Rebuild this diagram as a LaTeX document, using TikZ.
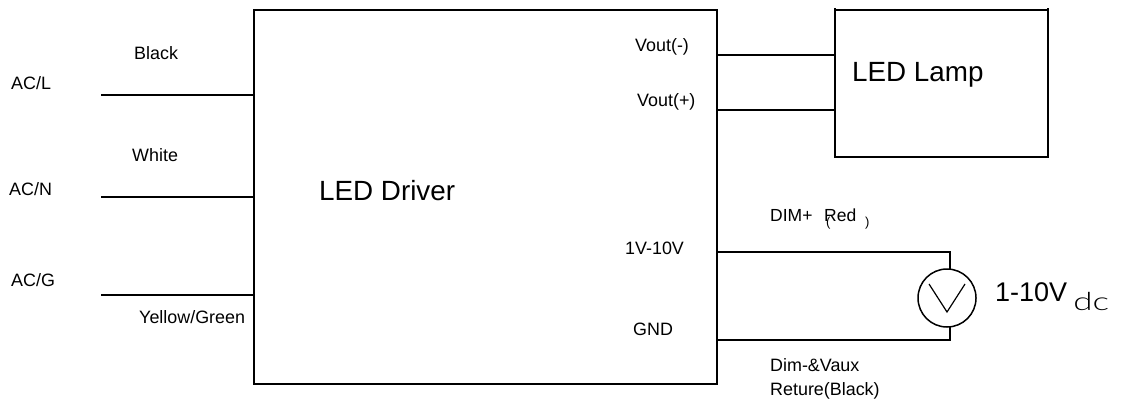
\documentclass[tikz,border=0pt]{standalone}
\usepackage{fontspec}
\setmainfont{Liberation Sans}
\newfontfamily\thinfont{Lato}[UprightFont=* Light]
\tikzset{
  x=1pt,y=-1pt,
  wire/.style={line width=1.7pt,black},
  blockbox/.style={draw=black,line width=1.7pt,outer sep=0pt,inner sep=0pt,anchor=north west},
  lab/.style={anchor=base west,inner sep=0pt,font=\fontsize{17.9}{18}\selectfont},
  biglab/.style={anchor=base west,inner sep=0pt,font=\fontsize{27.8}{28}\selectfont},
  meter/.style={circle,draw=black,line width=1.5pt,outer sep=0pt,minimum size=58pt,inner sep=0pt}
}
\begin{document}
\begin{tikzpicture}
\useasboundingbox (0,0) rectangle (1121,399);
\node[blockbox,minimum width=463pt,minimum height=374pt] (driver) at (254,10) {};
\node[blockbox,minimum width=213pt,minimum height=147pt] (lamp) at (835,10) {};
\draw[wire,line width=1.2pt] (lamp.north west) -- ++(0,-2);
\draw[wire,line width=1.2pt] (lamp.north east) -- ++(0,-2);
\node[meter] (vm) at (947,298) {};
\coordinate (acl) at (101,95);
\coordinate (acn) at (101,197);
\coordinate (acg) at (101,295);
\draw[wire] (acl) -- (acl -| driver.west);
\draw[wire] (acn) -- (acn -| driver.west);
\draw[wire] (acg) -- (acg -| driver.west);
\coordinate (vneg) at (717,55);
\coordinate (vpos) at (717,110);
\draw[wire] (vneg) -- (vneg -| lamp.west);
\draw[wire] (vpos) -- (vpos -| lamp.west);
\coordinate (dimp) at (717,252);
\coordinate (dimn) at (717,340);
\draw[wire,line join=miter] (dimp) -| (vm.84);
\draw[wire,line join=miter] (dimn) -| (vm.-84);
\coordinate (va) at (929,284);
\coordinate (vb) at (947,312);
\coordinate (vc) at (965,284);
\draw[line width=1.2pt] (va) -- (vb) -- (vc);
\node[lab] (t1) at (134,59) {Black};
\node[lab] (t2) at (11,89) {AC/L};
\node[lab] (t3) at (132,161) {White};
\node[lab] (t4) at (9,195) {AC/N};
\node[lab] (t5) at (11,286) {AC/G};
\node[lab] (t6) at (139,323) {Yellow/Green};
\node[biglab] (t7) at (319,200) {LED Driver};
\node[lab] (t8) at (635,51) {Vout(-)};
\node[lab] (t9) at (637,106) {Vout(+)};
\node[lab] (t10) at (625,254) {1V-10V};
\node[lab] (t11) at (633,335) {GND};
\node[biglab] (t12) at (852,81) {LED Lamp};
\node[lab,font=\fontsize{17.5}{17.5}\selectfont] (t13) at (770,221) {DIM+};
\node[lab,font=\fontsize{17.5}{17.5}\selectfont] (t14) at (824,221) {Red};
\node[lab,font=\fontsize{13}{13}\selectfont] (t15) at (826,226) {(};
\node[lab,font=\fontsize{13}{13}\selectfont] (t16) at (865,226) {)};
\node[lab] (t17) at (770,371) {Dim-\&Vaux};
\node[lab] (t18) at (770,395) {Reture(Black)};
\node[biglab,font=\fontsize{27}{27}\selectfont] (t19) at (995,301) {1-10V};
\node[anchor=base west,inner sep=0pt,font=\thinfont\fontsize{25}{25}\selectfont,xscale=1.4] (t20) at (1073,310) {dc};
\end{tikzpicture}
\end{document}
